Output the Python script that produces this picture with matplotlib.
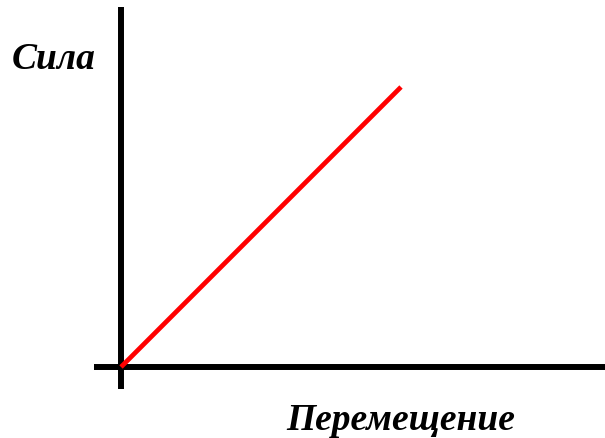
import matplotlib
matplotlib.use("Agg")
import matplotlib.pyplot as plt

# Data: a linear force-displacement relation
displacement = [0, 280]
force = [0, 280]
x_label = "Перемещение"
y_label = "Сила"

W, H = 605, 439
fig = plt.figure(figsize=(W / 100, H / 100), dpi=100)
ax = fig.add_axes([94 / W, (H - 390) / H, 511 / W, 382 / H])
ax.set_xlim(-27, 484)
ax.set_ylim(-22, 360)
ax.axis("off")

ax.axhline(0, color="black", lw=4.3, solid_capstyle="butt")
ax.axvline(0, color="black", lw=4.3, solid_capstyle="butt")
ax.plot(displacement, force, color="#ff0000", lw=3.4, solid_capstyle="butt")

font = dict(family="Liberation Serif", weight="bold", style="italic", size=27)
fig.text(12 / W, 1 - 69 / H, y_label, ha="left", va="baseline", **font)
fig.text(286 / W, 1 - 430 / H, x_label, ha="left", va="baseline", **font)

fig.savefig("out.png", dpi=100)
